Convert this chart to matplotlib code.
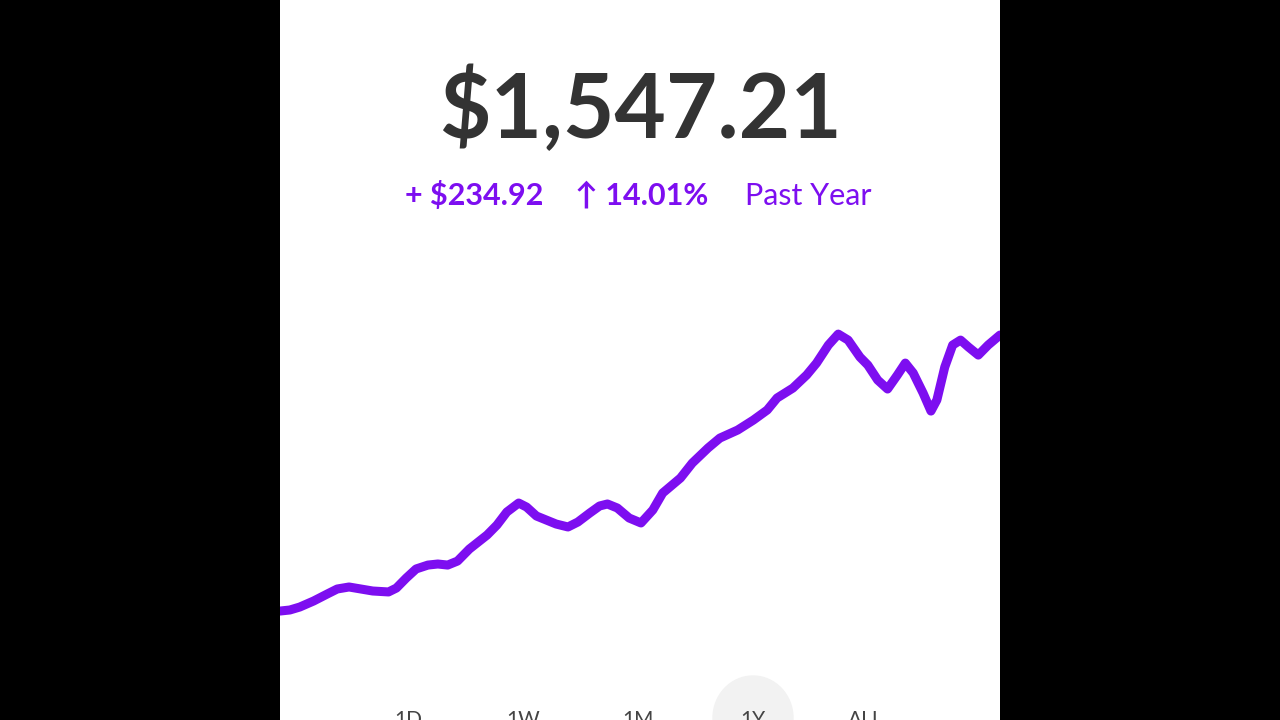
import matplotlib.pyplot as plt
from matplotlib.patches import Ellipse

# valores (día del año, valor de la cartera)
days = [0, 5, 10, 17, 24, 29, 35, 41, 47, 55, 59, 64, 69, 75, 80, 85, 90,
        96, 105, 110, 115, 121, 125, 130, 135, 140, 146, 151, 157, 162, 166,
        171, 177, 183, 189, 194, 203, 209, 217, 223, 232, 240, 247, 252, 260,
        267, 272, 278, 283, 288, 294, 298, 303, 308, 313, 317, 321, 326, 330,
        333, 337, 341, 345, 349, 354, 359, 365]
values = [1313.1, 1314.0, 1316.5, 1321.6, 1327.6, 1331.8, 1333.5, 1331.8,
          1330.1, 1329.3, 1332.6, 1341.1, 1348.8, 1352.1, 1353.0, 1352.1,
          1355.5, 1365.7, 1377.6, 1386.1, 1397.1, 1404.7, 1401.3, 1393.7,
          1390.3, 1386.9, 1384.4, 1388.6, 1396.2, 1402.2, 1403.9, 1400.5,
          1392.0, 1387.8, 1398.8, 1413.2, 1425.9, 1438.6, 1451.4, 1459.8,
          1466.6, 1475.1, 1483.6, 1493.8, 1502.2, 1513.3, 1523.4, 1538.7,
          1548.0, 1542.9, 1528.5, 1521.7, 1509.0, 1501.4, 1513.3, 1523.4,
          1515.0, 1498.0, 1482.7, 1492.1, 1520.0, 1538.7, 1542.9, 1537.0,
          1530.2, 1538.7, 1547.2]
balance = "$1,547.21"
change = "+ $234.92"
pct = "↑ 14.01%"
period = "Past Year"
tabs = ["1D", "1W", "1M", "1Y", "ALL"]
tab_x = [408, 523, 638, 753, 866]
selected = "1Y"

purple = "#7d0ef0"
W, H = 1280, 720

fig = plt.figure(figsize=(12.8, 7.2), dpi=100, facecolor="black")

# panel blanco central
bg = fig.add_axes([280 / W, 0, 720 / W, 1])
bg.set_facecolor("white")
bg.set_xticks([])
bg.set_yticks([])
for s in bg.spines.values():
    s.set_visible(False)

# línea de precio
ax = fig.add_axes([280 / W, 80 / H, 720 / W, 340 / H])
ax.plot(days, values, color=purple, lw=6.5, solid_joinstyle="round",
        solid_capstyle="round")
ax.set_xlim(0, 365)
ax.set_ylim(1288.55, 1576.9)
ax.axis("off")

fig.text(640 / W, 1 - 138 / H, balance, ha="center", va="baseline",
         fontsize=64, color="#333333", family="Lato", fontweight="bold")
fig.text(474 / W, 1 - 205 / H, change, ha="center", va="baseline",
         fontsize=22, color=purple, family="Lato", fontweight="bold")
fig.text(642 / W, 1 - 205 / H, pct, ha="center", va="baseline",
         fontsize=22, color=purple, family=["Lato", "DejaVu Sans"],
         fontweight="bold")
fig.text(808 / W, 1 - 205 / H, period, ha="center", va="baseline",
         fontsize=22, color=purple, family="Lato")

# pestañas de periodo
for t, x in zip(tabs, tab_x):
    if t == selected:
        fig.patches.append(Ellipse((x / W, 1 - 718 / H), 80 / W, 84 / H,
                                   transform=fig.transFigure, color="#f2f2f2",
                                   zorder=0))
    fig.text(x / W, 1 - 726 / H, t, ha="center", va="baseline", fontsize=15,
             color="#444444", family="Lato", zorder=2)

fig.savefig("out.png", dpi=100, facecolor="black")
